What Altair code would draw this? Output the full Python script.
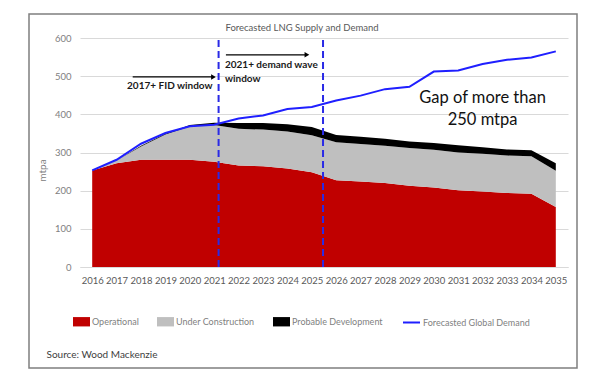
import altair as alt
import pandas as pd

years = list(range(2016, 2036))
operational = [253, 272, 281, 281, 281, 276, 266, 264, 258, 248, 227, 224, 220, 213, 208, 201, 198, 194, 192, 157]
under_construction = [0, 7, 35, 66, 87, 96, 96, 96, 97, 97, 100, 98, 98, 99, 99, 99, 99, 98, 98, 95]
probable = [0, 0, 2, 2, 4, 6, 15, 17, 19, 22, 19, 19, 18, 17, 18, 19, 17, 16, 16, 20]
demand = [253, 281, 323, 351, 369, 373, 389, 397, 414, 419, 436, 449, 466, 472, 512, 515, 532, 543, 549, 565]
y_ticks = [0, 100, 200, 300, 400, 500, 600]

supply_series = ["Operational", "Under Construction", "Probable Development"]
supply_colors = ["#c00000", "#bfbfbf", "#000000"]
demand_series = ["Forecasted Global Demand"]
demand_colors = ["#1f1fff"]

window_years = [2021.18, 2025.46]

FONT = "Lato"

rows = []
for i, y in enumerate(years):
    for k, (name, vals) in enumerate(zip(supply_series, [operational, under_construction, probable])):
        rows.append({"year": y, "series": name, "value": vals[i], "order": k})
supply_df = pd.DataFrame(rows)
demand_df = pd.DataFrame({"year": years, "value": demand, "series": demand_series[0]})

xscale = alt.Scale(domain=[2015.5, 2035.5], nice=False, zero=False)
yscale = alt.Scale(domain=[0, 600], nice=False)

x_axis = alt.Axis(values=years, format="d", grid=False, ticks=False, domainColor="#d9d9d9",
                  labelFont=FONT, labelFontSize=9.5, labelColor="#595959", labelPadding=8,
                  labelFlush=False, labelOverlap=False,
                  title="Source: Wood Mackenzie", titleX=-34, titleY=87,
                  titleAlign="left", titleBaseline="middle", titleFontWeight="normal",
                  titleFontSize=10, titleColor="#404040", titleFont=FONT)
y_axis = alt.Axis(values=y_ticks, grid=True, gridColor="#d9d9d9",
                  domain=False, ticks=False, labelFont=FONT, labelFontSize=9.5,
                  labelColor="#808080", labelPadding=9, labelOverlap=False,
                  title="mtpa", titleX=-38, titleY=132,
                  titleAngle=-90, titleAlign="center", titleBaseline="middle",
                  titleFontWeight="normal", titleFontSize=10, titleColor="#808080", titleFont=FONT)


def X(field):
    return alt.X(field, scale=xscale, axis=x_axis)


def Y(field, **kw):
    return alt.Y(field, scale=yscale, axis=y_axis, **kw)


frame = alt.Chart(alt.Data(values=[{"a": 1}])).mark_rect(
    fillOpacity=0, stroke="#7f7f7f", strokeWidth=1.5
).encode(x=alt.value(-51), x2=alt.value(497), y=alt.value(-24), y2=alt.value(330))

areas = alt.Chart(supply_df).mark_area(opacity=1).encode(
    x=X("year:Q"),
    y=Y("value:Q", stack="zero"),
    fill=alt.Fill("series:N", scale=alt.Scale(domain=supply_series, range=supply_colors),
                  legend=alt.Legend(title=None, orient="none", legendX=-7, legendY=275,
                                    direction="horizontal", symbolType="M-1,-0.55H1V0.55H-1Z",
                                    symbolSize=289, symbolStrokeWidth=0, symbolOpacity=1,
                                    labelFont=FONT, labelFontSize=9, labelColor="#7f7f7f",
                                    labelOffset=2, columnPadding=18, padding=0)),
    order=alt.Order("order:Q"),
)

line = alt.Chart(demand_df).mark_line(strokeWidth=2).encode(
    x=X("year:Q"),
    y=Y("value:Q"),
    stroke=alt.Stroke("series:N", scale=alt.Scale(domain=demand_series, range=demand_colors),
                      legend=alt.Legend(title=None, orient="none", legendX=322, legendY=275,
                                        direction="horizontal", symbolType="stroke",
                                        symbolSize=289, symbolStrokeWidth=2, symbolOpacity=1,
                                        labelFont=FONT, labelFontSize=9, labelColor="#7f7f7f",
                                        labelOffset=2, padding=0)),
)

rules_df = pd.DataFrame({"year": window_years, "lo": [0, 0], "hi": [600, 600]})
dashed = alt.Chart(rules_df).mark_rule(color="#2a2ae6", strokeWidth=2, strokeDash=[7, 4]).encode(
    x=X("year:Q"), y=Y("lo:Q"), y2="hi:Q"
)

arrows_df = pd.DataFrame({"x0": [2017.66, 2021.48], "x1": [2020.97, 2024.8], "y": [498, 556]})
arrow_lines = alt.Chart(arrows_df).mark_rule(color="#000000", strokeWidth=1.2).encode(
    x=X("x0:Q"), x2="x1:Q", y=Y("y:Q")
)
arrow_heads = alt.Chart(arrows_df).mark_point(shape="triangle-right", filled=True, size=30,
                                              color="#000000", opacity=1).encode(
    x=X("x1:Q"), y=Y("y:Q")
)

center_notes = pd.DataFrame({"x": [2019.18], "y": [473], "text": ["2017+ FID window"]})
left_notes = pd.DataFrame({"x": [2021.44, 2021.44], "y": [528, 492],
                           "text": ["2021+ demand wave", "window"]})
gap_notes = pd.DataFrame({"x": [2032.0, 2032.0], "y": [444, 386],
                          "text": ["Gap of more than", "250 mtpa"]})

t1 = alt.Chart(center_notes).mark_text(font=FONT, fontSize=10, fontWeight="bold", color="#1a1a1a",
                                       align="center", baseline="middle").encode(
    x=X("x:Q"), y=Y("y:Q"), text="text:N")
t2 = alt.Chart(left_notes).mark_text(font=FONT, fontSize=10, fontWeight="bold", color="#1a1a1a",
                                     align="left", baseline="middle").encode(
    x=X("x:Q"), y=Y("y:Q"), text="text:N")
t3 = alt.Chart(gap_notes).mark_text(font=FONT, fontSize=16.5, color="#111111",
                                    align="center", baseline="middle").encode(
    x=X("x:Q"), y=Y("y:Q"), text="text:N")

chart = alt.layer(frame, areas, line, dashed, arrow_lines, arrow_heads, t1, t2, t3).resolve_scale(
    fill="independent", stroke="independent"
).properties(
    width=488, height=229,
    title=alt.TitleParams("Forecasted LNG Supply and Demand", font=FONT, fontSize=9.5,
                          fontWeight="normal", color="#595959", anchor="middle", dx=-22, offset=-19),
    autosize=alt.AutoSizeParams(type="none"),
    padding={"left": 72, "top": 30, "right": 30, "bottom": 105},
).configure_view(stroke=None)

chart.save("out.html", embed_options={"renderer": "svg", "actions": False})
